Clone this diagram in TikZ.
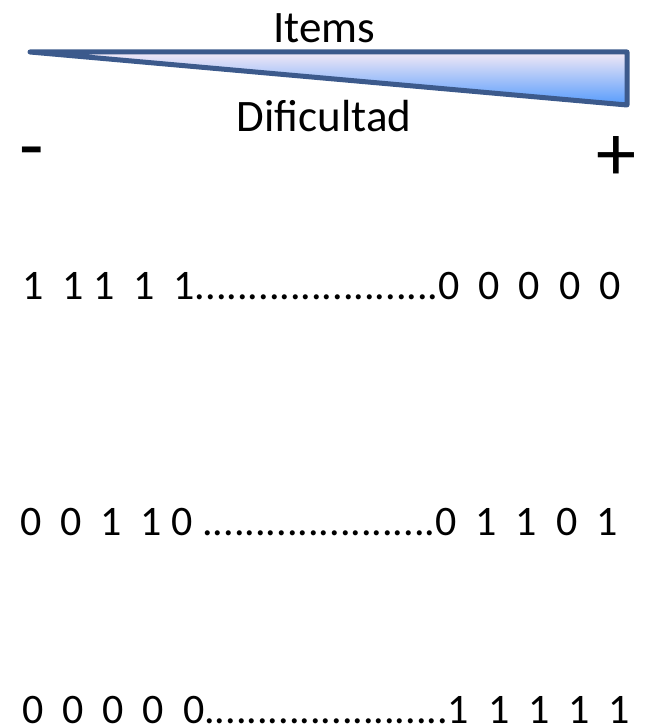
\documentclass[tikz,border=0pt]{standalone}
\usepackage{fontspec}
\setmainfont{Carlito}
\usetikzlibrary{positioning}
\definecolor{edgeblue}{RGB}{60,90,140}
\definecolor{topfill}{RGB}{243,233,246}
\definecolor{botfill}{RGB}{85,155,252}

\begin{document}
\begin{tikzpicture}[x=1pt, y=-1pt,
	every node/.style={inner sep=0pt, outer sep=0pt},
	row/.style={anchor=base west, font=\fontsize{42}{50}\selectfont},
	lbl/.style={anchor=base, font=\fontsize{45}{54}\selectfont},
	sign/.style={anchor=base, font=\fontsize{80}{90}\selectfont}]
	\useasboundingbox (0,0) rectangle (650,727);
	% wedge
	\coordinate (tip) at (30,52);
	\coordinate (top) at (627,52);
	\coordinate (bot) at (627,105);
	\shade[top color=topfill, bottom color=botfill] (tip) -- (top) -- (bot) -- cycle;
	\draw[edgeblue, line width=5pt, line join=round, line cap=round] (tip) -- (top) -- (bot) -- cycle;
	\node[lbl] (items) at (324,43) {Items};
	\node[lbl] (dif) at (324,132) {Dificultad};
	\node[sign] (minus) at (32,173) {-};
	\node[sign] (plus) at (616,181) {+};
	% response patterns
	\node[row] (r1) at (22,299) {1~~1~1~~1~~1.......................0~~0~~0~~0~~0};
	\node[row] (r2) at (20,535) {0~~0~~1~~1~0~......................0~~1~~1~~0~~1};
	\node[row] (r3) at (22,723) {0~~0~~0~~0~~0.......................1~~1~~1~~1~~1};
\end{tikzpicture}
\end{document}
